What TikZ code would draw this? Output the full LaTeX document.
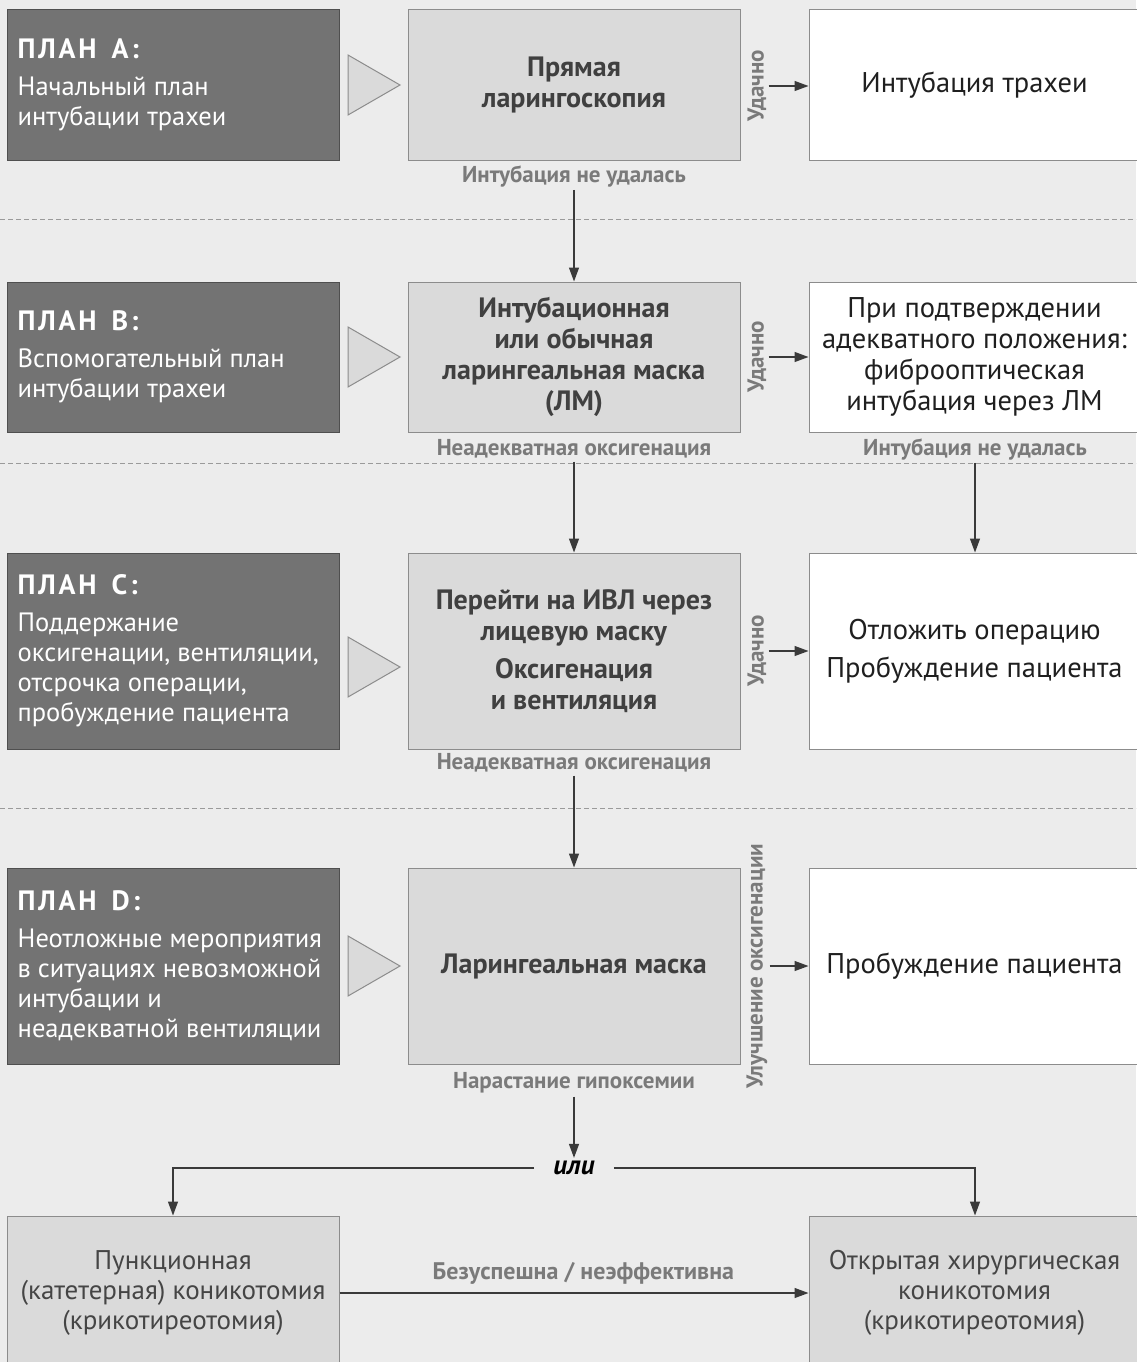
\documentclass[tikz,border=0pt]{standalone}
\usepackage{fontspec}
\setmainfont{PT Sans}
\usetikzlibrary{arrows.meta}
\definecolor{bg}{HTML}{ECECEC}
\definecolor{planfill}{HTML}{737373}
\definecolor{planborder}{HTML}{4F4F4F}
\definecolor{midfill}{HTML}{DADADA}
\definecolor{boxborder}{HTML}{8C8C8C}
\definecolor{midtext}{HTML}{404040}
\definecolor{lbltext}{HTML}{7A7A7A}
\definecolor{righttext}{HTML}{1F1F1F}
\definecolor{bottext}{HTML}{454545}
\definecolor{dashcol}{HTML}{9A9A9A}
\definecolor{arrcol}{HTML}{3A3A3A}
\newcommand\fsz[2]{\fontsize{#1pt}{#2pt}\selectfont}
\newcommand\ptitle[1]{{\fsz{28}{30}\bfseries\addfontfeature{LetterSpace=10}#1}}
\begin{document}
\begin{tikzpicture}[x=1pt,y=-1pt,
  planbox/.style={draw=planborder, fill=planfill, line width=1pt, minimum width=332pt, inner sep=0pt},
  plantext/.style={anchor=west, align=left, text=white, inner sep=0pt, font=\fsz{26.5}{30}},
  midbox/.style={draw=boxborder, fill=midfill, line width=1pt, minimum width=332pt, inner sep=0pt, align=center, text=midtext, font=\fsz{28}{31}\bfseries},
  rightbox/.style={draw=boxborder, fill=white, line width=1pt, minimum width=331pt, inner sep=0pt, align=center, text=righttext, font=\fsz{28.5}{31}},
  botbox/.style={draw=boxborder, fill=midfill, line width=1pt, minimum width=332pt, minimum height=154pt, inner sep=0pt, align=center, text=bottext, font=\fsz{27}{30}},
  lbl/.style={text=lbltext, font=\fsz{23}{26}\bfseries, inner sep=3pt},
  vlbl/.style={text=lbltext, font=\fsz{23}{26}\bfseries, inner sep=2pt, rotate=90},
  tri/.style={draw=boxborder, fill=midfill, line width=1pt},
  sep/.style={draw=dashcol, line width=1pt, dash pattern=on 5pt off 3pt},
  arr/.style={draw=arrcol, line width=1.3pt, -{Triangle[length=14pt,width=10pt]}},
  link/.style={draw=arrcol, line width=1.3pt}
]
\useasboundingbox[fill=bg] (0,0) rectangle (1136,1362);

% separators
\draw[sep] (0,219) -- (1136,219);
\draw[sep] (0,463) -- (1136,463);
\draw[sep] (0,808) -- (1136,808);

% ---------- Plan A ----------
\node[planbox, minimum height=150pt] (pA) at (173,85) {};
\node[plantext] (pAt) at ([xshift=11pt]pA.west) {\ptitle{ПЛАН\hspace{15pt}A:}\\[7pt]Начальный план\\интубации трахеи};
\draw[tri] (348,55) -- (400,85) -- (348,115) -- cycle;
\node[midbox, minimum height=150pt] (mA) at (574,85) {Прямая\\ларингоскопия};
\node[rightbox, minimum height=150pt] (rA) at (974.5,85) {Интубация трахеи};
\node[vlbl] (uA) at (757,86) {Удачно};
\draw[arr] (uA.south) -- (uA.south -| rA.west);
\node[lbl] (lA) at (574,176) {Интубация не удалась};

% ---------- Plan B ----------
\node[planbox, minimum height=150pt] (pB) at (173,357) {};
\node[plantext] (pBt) at ([xshift=11pt]pB.west) {\ptitle{ПЛАН\hspace{15pt}B:}\\[7pt]Вспомогательный план\\интубации трахеи};
\draw[tri] (348,327) -- (400,357) -- (348,387) -- cycle;
\node[midbox, minimum height=150pt] (mB) at (574,357) {Интубационная\\или обычная\\ларингеальная маска\\(ЛМ)};
\node[rightbox, minimum height=150pt] (rB) at (974.5,357) {При подтверждении\\адекватного положения:\\фиброоптическая\\интубация через ЛМ};
\node[vlbl] (uB) at (757,357) {Удачно};
\draw[arr] (uB.south) -- (uB.south -| rB.west);
\node[lbl] (lB) at (574,449) {Неадекватная оксигенация};
\node[lbl] (lBr) at (975,449) {Интубация не удалась};

% ---------- Plan C ----------
\node[planbox, minimum height=196pt] (pC) at (173,651) {};
\node[plantext] (pCt) at ([xshift=11pt]pC.west) {\ptitle{ПЛАН\hspace{15pt}C:}\\[7pt]Поддержание\\оксигенации, вентиляции,\\отсрочка операции,\\пробуждение пациента};
\draw[tri] (348,637) -- (400,667) -- (348,697) -- cycle;
\node[midbox, minimum height=196pt] (mC) at (574,651) {Перейти на ИВЛ через\\лицевую маску\\[7pt]Оксигенация\\и вентиляция};
\node[rightbox, minimum height=196pt] (rC) at (974.5,651) {Отложить операцию\\[7pt]Пробуждение пациента};
\node[vlbl] (uC) at (757,651) {Удачно};
\draw[arr] (uC.south) -- (uC.south -| rC.west);
\node[lbl] (lC) at (574,763) {Неадекватная оксигенация};

% ---------- Plan D ----------
\node[planbox, minimum height=196pt] (pD) at (173,966) {};
\node[plantext] (pDt) at ([xshift=11pt]pD.west) {\ptitle{ПЛАН\hspace{15pt}D:}\\[7pt]Неотложные мероприятия\\в ситуациях невозможной\\интубации и\\неадекватной вентиляции};
\draw[tri] (348,936) -- (400,966) -- (348,996) -- cycle;
\node[midbox, minimum height=196pt] (mD) at (574,966) {Ларингеальная маска};
\node[rightbox, minimum height=196pt] (rD) at (974.5,966) {Пробуждение пациента};
\node[vlbl] (uD) at (757,966) {Улучшение оксигенации};
\draw[arr] (uD.south) -- (uD.south -| rD.west);
\node[lbl] (lD) at (574,1083) {Нарастание гипоксемии};

% vertical flow
\draw[arr] (lA.south) -- (mB.north);
\draw[arr] (lB.south) -- (mC.north);
\draw[arr] (lBr.south) -- (lBr.south |- rC.north);
\draw[arr] (lC.south) -- (mD.north);

% ---------- bottom ----------
\node[font=\fsz{27}{30}\bfseries\itshape, text=black, inner xsep=19pt, inner ysep=3pt] (ili) at (574,1168) {или};
\draw[arr] (lD.south) -- (ili.north);
\node[botbox] (bL) at (173,1293) {Пункционная\\(катетерная) коникотомия\\(крикотиреотомия)};
\node[botbox, minimum width=331pt] (bR) at (974.5,1293) {Открытая хирургическая\\коникотомия\\(крикотиреотомия)};
\draw[arr] (ili.west) -| (bL.north);
\draw[arr] (ili.east) -| ([xshift=0.5pt]bR.north);
\draw[arr] (bL.east) -- (bR.west) node[pos=0.52, above=8pt, lbl, inner sep=0pt, font=\fsz{24}{26}\bfseries] (lE) {Безуспешна / неэффективна};
\end{tikzpicture}
\end{document}
